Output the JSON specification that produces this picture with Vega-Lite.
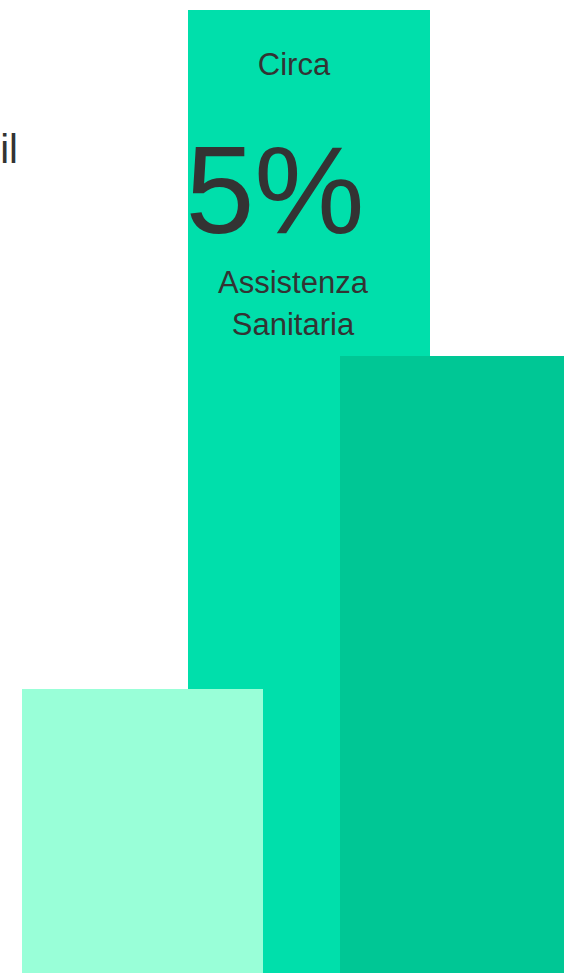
{
  "$schema": "https://vega.github.io/schema/vega-lite/v6.json",
  "autosize": {"type": "fit", "contains": "padding"},
  "width": 564,
  "height": 973,
  "padding": 0,
  "background": "white",
  "config": {"view": {"stroke": null}, "font": "Liberation Sans"},
  "layer": [
    {
      "data": {"values": [
        {"name": "Assistenza Sanitaria", "start": 188, "end": 430, "value": 963, "order": 1},
        {"name": "A", "start": 22, "end": 263, "value": 284, "order": 2},
        {"name": "B", "start": 340, "end": 564, "value": 617, "order": 3}
      ]},
      "mark": {"type": "rect"},
      "encoding": {
        "x": {"field": "start", "type": "quantitative", "scale": {"domain": [0, 564], "nice": false, "zero": false}, "axis": null},
        "x2": {"field": "end"},
        "y": {"field": "value", "type": "quantitative", "scale": {"domain": [0, 973], "nice": false}, "axis": null},
        "y2": {"datum": 0},
        "order": {"field": "order"},
        "color": {"field": "name", "type": "nominal", "scale": {"domain": ["Assistenza Sanitaria", "A", "B"], "range": ["#00DFAB", "#99FFD8", "#00C795"]}, "legend": null}
      }
    },
    {
      "data": {"values": [{"label": "Circa"}]},
      "mark": {"type": "text", "fontSize": 31, "color": "#333333", "align": "center", "baseline": "alphabetic"},
      "encoding": {"x": {"datum": 294, "type": "quantitative"}, "y": {"datum": 898, "type": "quantitative"}, "text": {"field": "label"}}
    },
    {
      "data": {"values": [{"label": "5%"}]},
      "mark": {"type": "text", "fontSize": 124, "color": "#333333", "align": "center", "baseline": "alphabetic"},
      "encoding": {"x": {"datum": 275, "type": "quantitative"}, "y": {"datum": 740, "type": "quantitative"}, "text": {"field": "label"}}
    },
    {
      "data": {"values": [{"label": "Assistenza"}]},
      "mark": {"type": "text", "fontSize": 31, "color": "#333333", "align": "center", "baseline": "alphabetic"},
      "encoding": {"x": {"datum": 293, "type": "quantitative"}, "y": {"datum": 680, "type": "quantitative"}, "text": {"field": "label"}}
    },
    {
      "data": {"values": [{"label": "Sanitaria"}]},
      "mark": {"type": "text", "fontSize": 31, "color": "#333333", "align": "center", "baseline": "alphabetic"},
      "encoding": {"x": {"datum": 293, "type": "quantitative"}, "y": {"datum": 638, "type": "quantitative"}, "text": {"field": "label"}}
    },
    {
      "data": {"values": [{"label": "il"}]},
      "mark": {"type": "text", "fontSize": 40, "color": "#333333", "align": "right", "baseline": "alphabetic"},
      "encoding": {"x": {"datum": 18, "type": "quantitative"}, "y": {"datum": 810, "type": "quantitative"}, "text": {"field": "label"}}
    }
  ]
}
